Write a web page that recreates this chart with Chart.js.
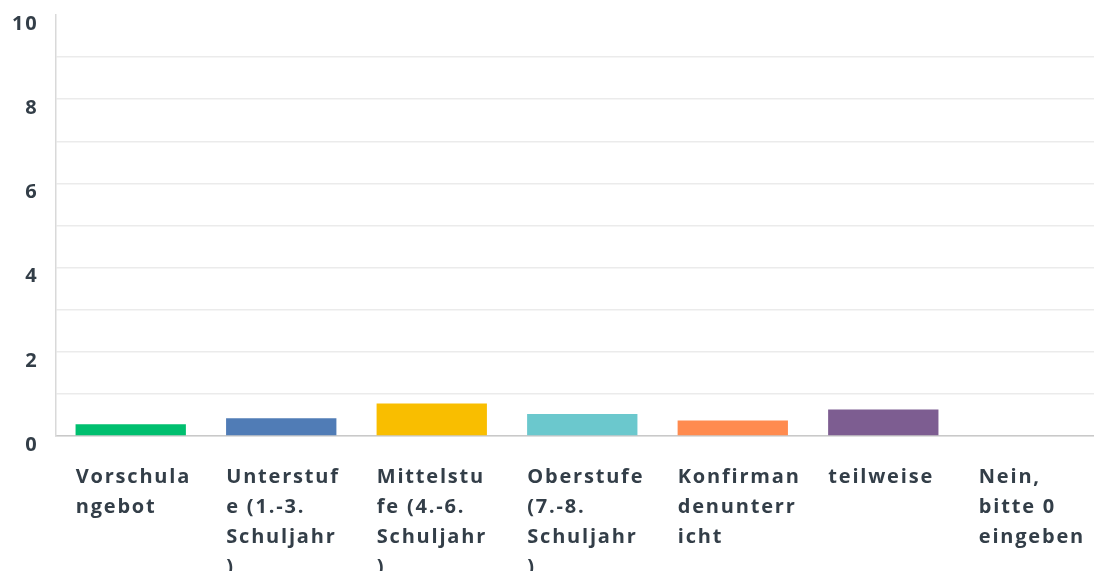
<!DOCTYPE html>
<html>
<head>
<meta charset="utf-8">
<script src="https://cdn.jsdelivr.net/npm/chart.js@4"></script>
<style>
  html, body { margin: 0; padding: 0; background: #fff; overflow: hidden; }
  #wrap { width: 1166px; height: 622px; margin-top: -14px; position: relative; }
</style>
</head>
<body>
<div id="wrap"><canvas id="chart"></canvas></div>
<script>
/* data */
const categories = [
    ["Vorschula", "ngebot"],
    ["Unterstuf", "e (1.-3.", "Schuljahr", ")"],
    ["Mittelstu", "fe (4.-6.", "Schuljahr", ")"],
    ["Oberstufe", "(7.-8.", "Schuljahr", ")"],
    ["Konfirman", "denunterr", "icht"],
    ["teilweise"],
    ["Nein,", "bitte 0", "eingeben"]
];
const values = [0.28, 0.42, 0.77, 0.52, 0.37, 0.63, 0];
const barColors = ["#00bf6f", "#507cb6", "#f9be00", "#6bc8cd", "#ff8b4f", "#7d5d91", "#d25f90"];
const yTicks = [0, 2, 4, 6, 8, 10];

const textColor = "#333e48";
const fontFamily = "'Open Sans', sans-serif";

// the reference font runs wider than anything installed, so space the letters a bit
const spacing = {
    id: "spacing",
    beforeUpdate(chart) { chart.ctx.letterSpacing = "1.8px"; },
    beforeDraw(chart) { chart.ctx.letterSpacing = "1.8px"; }
};

new Chart(document.getElementById("chart"), {
    type: "bar",
    data: {
        labels: categories,
        datasets: [{
            data: values,
            backgroundColor: barColors,
            borderWidth: 0,
            barPercentage: 0.733,
            categoryPercentage: 1
        }]
    },
    options: {
        responsive: true,
        maintainAspectRatio: false,
        animation: false,
        layout: { padding: { left: -5, top: 0, right: 0, bottom: 0 } },
        plugins: {
            legend: { display: false },
            tooltip: { enabled: false }
        },
        scales: {
            x: {
                grid: { display: false, drawTicks: false },
                border: { color: "#c9c9c9", width: 1.5 },
                ticks: {
                    color: textColor,
                    font: { family: fontFamily, size: 20, weight: "700", lineHeight: 1.5 },
                    align: "start",
                    labelOffset: -55,
                    padding: 26,
                    maxRotation: 0,
                    autoSkip: false
                }
            },
            y: {
                min: 0,
                max: 10,
                grid: {
                    drawTicks: false,
                    color: ctx => ctx.tick && ctx.tick.value === 10 ? "rgba(0,0,0,0)" : "#ebebeb",
                    lineWidth: 1.5
                },
                border: { color: "#d9d9d9", width: 1.5 },
                ticks: {
                    stepSize: 1,
                    color: textColor,
                    font: { family: fontFamily, size: 20, weight: "700" },
                    padding: 17,
                    labelOffset: 9,
                    callback: v => yTicks.includes(v) ? String(v) : ""
                }
            }
        }
    },
    plugins: [spacing]
});
</script>
</body>
</html>
